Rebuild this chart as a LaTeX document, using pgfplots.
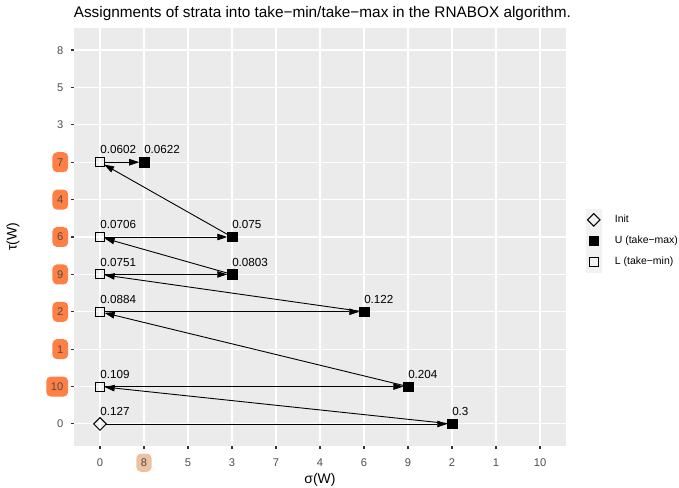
\documentclass[border=0pt]{standalone}
\usepackage{fontspec}
\setmainfont{Liberation Sans}
\usepackage{pgfplots}
\pgfplotsset{compat=1.18}
\usepackage{pgfplotstable}
\usetikzlibrary{arrows.meta}
\definecolor{panelbg}{HTML}{EBEBEB}
\definecolor{ticklab}{HTML}{4D4D4D}
\definecolor{tickcol}{HTML}{333333}
\definecolor{hlorange}{HTML}{FF7F45}
\definecolor{hlpeach}{HTML}{EBC3A3}
\definecolor{keybg}{HTML}{F2F2F2}

\newcommand{\ybox}[2]{\tikz[baseline=(b.base)]\node[fill=#1,rounded corners=4.5bp,inner xsep=4.7bp,inner ysep=6bp,text height=8bp,text depth=0pt,outer sep=0pt](b){#2};}
\newcommand{\xbox}[2]{\tikz[baseline=(b.base)]\node[fill=#1,rounded corners=4.5bp,inner xsep=4.45bp,inner ysep=5.2bp,text height=8bp,text depth=0pt,outer sep=0pt](b){#2};}

\pgfplotstableread{
x y lab
0 0 0.127
}\initdata
\pgfplotstableread{
x y lab
8 0 0.3
7 1 0.204
6 3 0.122
3 4 0.0803
3 5 0.075
1 7 0.0622
}\udata
\pgfplotstableread{
x y lab
0 1 0.109
0 3 0.0884
0 4 0.0751
0 5 0.0706
0 7 0.0602
}\ldata

\begin{document}
\begin{tikzpicture}
\begin{axis}[
  at={(0,0)}, anchor=south west,
  scale only axis, width=492.8bp, height=418.8bp,
  xmin=-0.6, xmax=10.6, ymin=-0.6, ymax=10.6,
  axis background/.style={fill=panelbg},
  axis line style={draw=none},
  tick pos=left, tick align=outside,
  major tick length=2.75bp,
  major tick style={tickcol, line width=1.07bp},
  grid=major, major grid style={white, line width=1.07bp},
  xtick={0,1,2,3,4,5,6,7,8,9,10},
  ytick={0,1,2,3,4,5,6,7,8,9,10},
  xticklabels={{\xbox{none}{0}},{\xbox{hlpeach}{8}},{\xbox{none}{5}},{\xbox{none}{3}},{\xbox{none}{7}},{\xbox{none}{4}},{\xbox{none}{6}},{\xbox{none}{9}},{\xbox{none}{2}},{\xbox{none}{1}},{\xbox{none}{10}}},
  yticklabels={{\ybox{none}{0}},{\ybox{hlorange}{10}},{\ybox{hlorange}{1}},{\ybox{hlorange}{2}},{\ybox{hlorange}{9}},{\ybox{hlorange}{6}},{\ybox{hlorange}{4}},{\ybox{hlorange}{7}},{\ybox{none}{3}},{\ybox{none}{5}},{\ybox{none}{8}}},
  ticklabel style={font=\fontsize{11.2}{13}\selectfont, text=ticklab},
  xticklabel style={anchor=north, inner sep=0pt, yshift=-4.15bp},
  yticklabel style={anchor=east, inner sep=0pt, xshift=-2.55bp},
  xlabel={σ(W)}, ylabel={τ(W)},
  label style={font=\fontsize{14}{16}\selectfont, inner sep=0pt},
  xlabel style={at={(axis description cs:0.5,0)}, anchor=base, yshift=-37bp},
  ylabel style={at={(axis description cs:0,0.5)}, anchor=center, yshift=60.6bp},
  title={Assignments of strata into take−min/take−max in the RNABOX algorithm.},
  title style={at={(axis description cs:0,1)}, anchor=base west, yshift=4.3bp, font=\fontsize{15.4}{18}\selectfont, inner sep=0pt},
  legend style={at={(axis description cs:1,0.491)}, anchor=west, xshift=19.6bp, draw=none, fill=none, inner sep=0pt, row sep=0pt, column sep=13.6bp, font=\fontsize{10.5}{12}\selectfont, nodes={inner sep=0pt}},
  legend cell align=left,
  legimg/.style={legend image code/.code={\fill[keybg] (0bp,-10.25bp) rectangle (14.7bp,10.25bp); \draw[mark repeat=2,mark phase=2] plot coordinates {(0bp,0bp) (7.35bp,0bp) (14.7bp,0bp)};}},
  lab/.style={nodes near coords, point meta=explicit symbolic, nodes near coords style={anchor=base west, inner sep=0pt, font=\fontsize{11.7}{14}\selectfont, text=black, yshift=8.3bp}},
  arr/.style={black, line width=0.9bp, -{Triangle[length=10bp,width=6.5bp]}, shorten >=4.75bp, shorten <=4.75bp, forget plot, mark=none},
]
\addplot[only marks, mark=square, mark size=4.45bp, mark options={rotate=45, draw=black, fill=none, line width=1bp}, legimg, lab] table[x=x, y=y, meta=lab] {\initdata};
\addlegendentry{Init}
\addplot[only marks, mark=square*, mark size=4.75bp, mark options={draw=black, fill=black, line width=0.5bp}, legimg, lab] table[x=x, y=y, meta=lab] {\udata};
\addlegendentry{U (take−max)}
\addplot[only marks, mark=square, mark size=4.5bp, mark options={draw=black, fill=none, line width=1bp}, legimg, lab] table[x=x, y=y, meta=lab] {\ldata};
\addlegendentry{L (take−min)}
\addplot[arr, shorten <=6.3bp] coordinates {(0,0) (8,0)};
\addplot[arr] coordinates {(8,0) (0,1)};
\addplot[arr] coordinates {(0,1) (7,1)};
\addplot[arr] coordinates {(7,1) (0,3)};
\addplot[arr] coordinates {(0,3) (6,3)};
\addplot[arr] coordinates {(6,3) (0,4)};
\addplot[arr] coordinates {(0,4) (3,4)};
\addplot[arr] coordinates {(3,4) (0,5)};
\addplot[arr] coordinates {(0,5) (3,5)};
\addplot[arr] coordinates {(3,5) (0,7)};
\addplot[arr] coordinates {(0,7) (1,7)};
\end{axis}
\pgfresetboundingbox
\path[use as bounding box] (-73.6bp,-41.6bp) rectangle (605.4bp,446.4bp);
\end{tikzpicture}
\end{document}
